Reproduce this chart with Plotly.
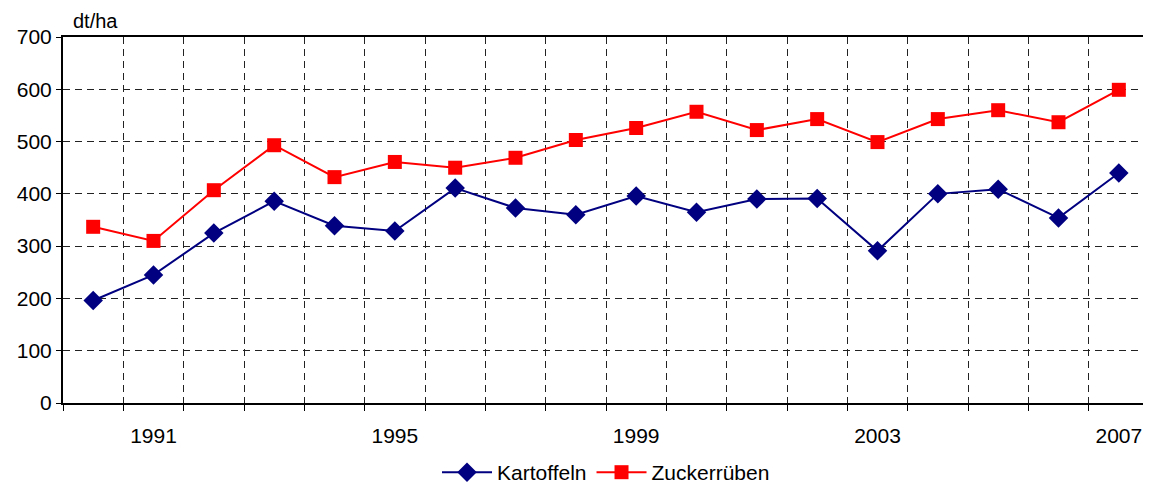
import plotly.graph_objects as go

years = list(range(1990, 2008))
kartoffeln = [196, 245, 325, 386, 339, 329, 411, 373, 360, 396, 365, 390, 391, 291, 400, 409, 354, 440]
zuckerrueben = [337, 310, 407, 493, 432, 461, 450, 469, 503, 526, 557, 522, 543, 499, 543, 560, 537, 599]
tick_years = [1991, 1995, 1999, 2003, 2007]
tick_labels = ["1991", "1995", "1999", "2003", "2007"]

FONT = "Liberation Sans, Arial, sans-serif"
FS = 21

fig = go.Figure()
fig.add_trace(go.Scatter(
    x=years, y=kartoffeln, name="Kartoffeln", mode="lines+markers",
    line=dict(color="#000080", width=2),
    marker=dict(symbol="diamond", size=15, color="#000080"),
))
fig.add_trace(go.Scatter(
    x=years, y=zuckerrueben, name="Zuckerrüben", mode="lines+markers",
    line=dict(color="#FF0000", width=2),
    marker=dict(symbol="square", size=14, color="#FF0000"),
))
fig.add_trace(go.Scatter(x=[years[0]], y=[0], xaxis="x2", mode="markers",
                         marker=dict(opacity=0), showlegend=False, hoverinfo="skip"))

xr = [years[0] - 0.5, years[-1] + 0.5]
fig.update_layout(
    width=1143, height=480,
    margin=dict(l=55, r=2, t=29, b=85, autoexpand=False),
    paper_bgcolor="white", plot_bgcolor="white",
    font=dict(family=FONT, size=FS, color="#000"),
    showlegend=True,
    legend=dict(orientation="h", x=0.5, xanchor="center", y=-0.19, yanchor="middle",
                font=dict(size=FS), itemwidth=50),
    xaxis=dict(
        range=xr, tick0=years[0] - 0.5, dtick=1, showticklabels=False,
        ticks="outside", ticklen=6, tickcolor="#000", tickwidth=1,
        showgrid=True, gridcolor="#222", gridwidth=1, griddash="7px,5px",
        showline=True, linecolor="#000", linewidth=2, mirror=True, zeroline=False,
        automargin=False,
    ),
    xaxis2=dict(
        overlaying="x", anchor="y", side="bottom", range=xr,
        tickmode="array", tickvals=tick_years, ticktext=tick_labels,
        ticks="outside", ticklen=14, tickcolor="rgba(0,0,0,0)",
        showgrid=False, showline=False, zeroline=False,
        tickfont=dict(size=FS), automargin=False,
    ),
    yaxis=dict(
        range=[0, 700], dtick=100, tick0=0,
        ticks="outside", ticklen=5, tickcolor="#000",
        showgrid=True, gridcolor="#222", gridwidth=1, griddash="7px,5px",
        showline=True, linecolor="#000", linewidth=2, mirror=True, zeroline=False,
        tickfont=dict(size=FS), automargin=False,
    ),
    annotations=[dict(text="dt/ha", xref="paper", yref="paper", x=0.008, y=1.0,
                      yshift=4, xanchor="left", yanchor="bottom", showarrow=False,
                      borderpad=0, font=dict(size=20))],
)

fig.write_html("out.html")
